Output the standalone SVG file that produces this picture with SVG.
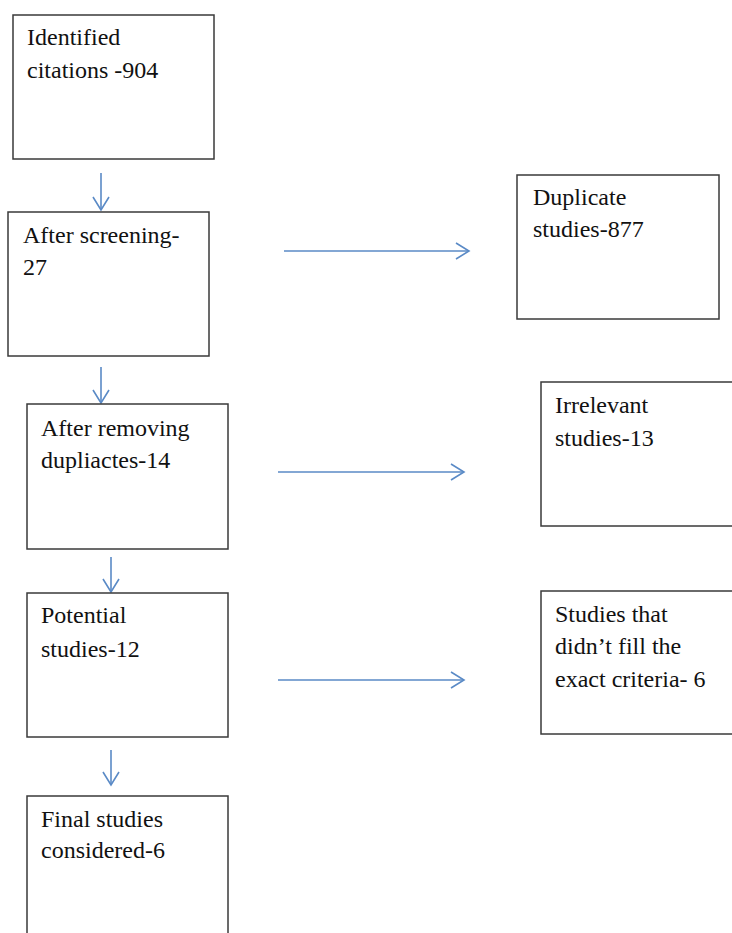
<svg xmlns="http://www.w3.org/2000/svg" width="732" height="933" viewBox="0 0 732 933">
<style>
.box{fill:#fff;stroke:#3a3a3a;stroke-width:1.5}
.t{font-size:24px;fill:#111}
.c{fill:none;stroke:#5a8ac6;stroke-width:1.6}
</style>
<defs>
<marker id="ah" markerWidth="16" markerHeight="18" refX="14" refY="9" orient="auto" markerUnits="userSpaceOnUse">
<path d="M1,1 L14,9 L1,17" fill="none" stroke="#5a8ac6" stroke-width="1.6"/>
</marker>
</defs>
<rect width="732" height="933" fill="#fff"/>
<g id="connectors">
<line class="c" x1="101" y1="173" x2="101" y2="210" marker-end="url(#ah)"/>
<line class="c" x1="101" y1="367" x2="101" y2="403" marker-end="url(#ah)"/>
<line class="c" x1="111" y1="557" x2="111" y2="592" marker-end="url(#ah)"/>
<line class="c" x1="111" y1="750" x2="111" y2="785" marker-end="url(#ah)"/>
<line class="c" x1="284" y1="251" x2="469" y2="251" marker-end="url(#ah)"/>
<line class="c" x1="278" y1="472" x2="464" y2="472" marker-end="url(#ah)"/>
<line class="c" x1="278" y1="680" x2="464" y2="680" marker-end="url(#ah)"/>
</g>
<g font-family="Liberation Serif, DejaVu Serif, serif">
<g id="identified">
<rect class="box" x="13" y="15" width="201" height="144"/>
<text class="t" x="27" y="45">Identified</text>
<text class="t" x="27" y="78">citations -904</text>
</g>
<g id="screening">
<rect class="box" x="8" y="212" width="201" height="144"/>
<text class="t" x="23" y="243">After screening-</text>
<text class="t" x="23" y="275">27</text>
</g>
<g id="duplicate">
<rect class="box" x="517" y="175" width="202" height="144"/>
<text class="t" x="533" y="205">Duplicate</text>
<text class="t" x="533" y="237">studies-877</text>
</g>
<g id="removing">
<rect class="box" x="27" y="404" width="201" height="145"/>
<text class="t" x="41" y="436">After removing</text>
<text class="t" x="41" y="468">dupliactes-14</text>
</g>
<g id="irrelevant">
<rect class="box" x="541" y="382" width="200" height="144"/>
<text class="t" x="555" y="413">Irrelevant</text>
<text class="t" x="555" y="446">studies-13</text>
</g>
<g id="potential">
<rect class="box" x="27" y="593" width="201" height="144"/>
<text class="t" x="41" y="623">Potential</text>
<text class="t" x="41" y="657">studies-12</text>
</g>
<g id="criteria">
<rect class="box" x="541" y="591" width="200" height="143"/>
<text class="t" x="555" y="622">Studies that</text>
<text class="t" x="555" y="654">didn’t fill the</text>
<text class="t" x="555" y="687">exact criteria- 6</text>
</g>
<g id="final">
<rect class="box" x="27" y="796" width="201" height="150"/>
<text class="t" x="41" y="827">Final studies</text>
<text class="t" x="41" y="858">considered-6</text>
</g>
</g>
</svg>
